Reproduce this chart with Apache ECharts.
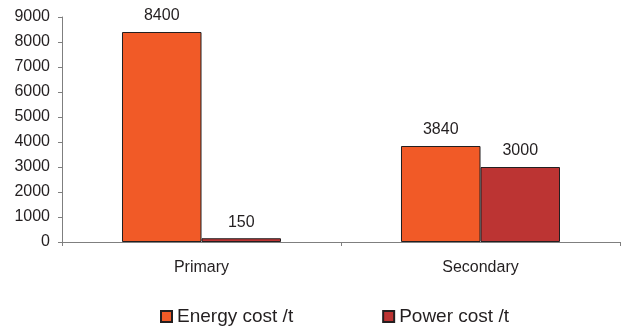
<!DOCTYPE html>
<html>
<head>
<meta charset="utf-8">
<script src="https://cdn.jsdelivr.net/npm/echarts@6/dist/echarts.min.js"></script>
<style>
  html, body { margin: 0; padding: 0; background: #fff; }
  #chart { width: 630px; height: 329px; }
</style>
</head>
<body>
<div id="chart"></div>
<script>
// Cost per tonne for primary vs secondary production
const categories = ['Primary', 'Secondary'];
const energyCost = [8400, 3840];
const powerCost = [150, 3000];
const yTicks = [0, 1000, 2000, 3000, 4000, 5000, 6000, 7000, 8000, 9000];

const font = 'Liberation Sans, Arial, sans-serif';
const axisGrey = '#7f7f7f';
const textColor = '#231f20';

const chart = echarts.init(document.getElementById('chart'), null, { renderer: 'canvas' });

const labelStyle = {
  show: true,
  position: 'top',
  distance: 8,
  fontFamily: font,
  fontSize: 16,
  color: textColor
};

chart.setOption({
  animation: false,
  textStyle: { fontFamily: font },
  grid: { left: 62, right: 10, top: 17, bottom: 87, containLabel: false },
  legend: {
    left: 155,
    top: 302,
    itemWidth: 11,
    itemHeight: 11,
    itemGap: 89,
    icon: 'rect',
    textStyle: { fontFamily: font, fontSize: 19, color: textColor },
    data: ['Energy cost /t', 'Power cost /t']
  },
  xAxis: {
    type: 'category',
    data: categories,
    boundaryGap: true,
    axisLine: { lineStyle: { color: axisGrey, width: 1 } },
    axisTick: { show: true, length: 4, lineStyle: { color: axisGrey } },
    axisLabel: { fontFamily: font, fontSize: 16, color: textColor, margin: 18 }
  },
  yAxis: {
    type: 'value',
    min: yTicks[0],
    max: yTicks[yTicks.length - 1],
    interval: 1000,
    axisLine: { show: true, lineStyle: { color: axisGrey, width: 1 } },
    axisTick: { show: true, length: 4, lineStyle: { color: axisGrey } },
    axisLabel: {
      fontFamily: font,
      fontSize: 16,
      color: textColor,
      margin: 12,
      formatter: (v) => String(v)
    },
    splitLine: { show: false }
  },
  series: [
    {
      name: 'Energy cost /t',
      type: 'bar',
      data: energyCost,
      barGap: '0%',
      barCategoryGap: '43%',
      itemStyle: { color: '#f15a27', borderColor: textColor, borderWidth: 1 },
      label: labelStyle
    },
    {
      name: 'Power cost /t',
      type: 'bar',
      data: powerCost,
      itemStyle: { color: '#bc3433', borderColor: textColor, borderWidth: 1 },
      label: labelStyle
    }
  ]
});
</script>
</body>
</html>
